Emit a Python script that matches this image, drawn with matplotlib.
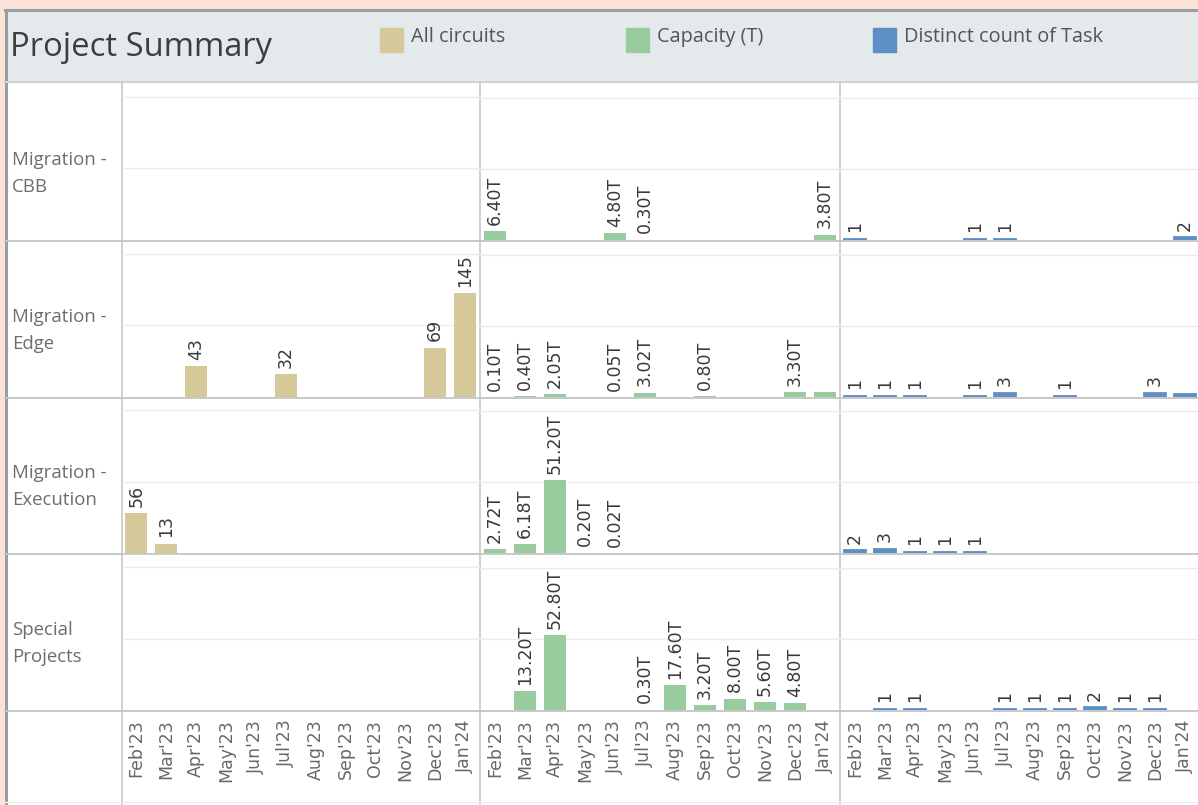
import numpy as np
import matplotlib.pyplot as plt
from matplotlib.patches import Rectangle

# months on the x axis
months = ["Feb'23", "Mar'23", "Apr'23", "May'23", "Jun'23", "Jul'23",
          "Aug'23", "Sep'23", "Oct'23", "Nov'23", "Dec'23", "Jan'24"]
row_names = ["Migration -\nCBB", "Migration -\nEdge",
             "Migration -\nExecution", "Special\nProjects"]

# All circuits
circuits_cbb = [None] * 12
circuits_edge = [None, None, 43, None, None, 32, None, None, None, None, 69, 145]
circuits_exec = [56, 13, None, None, None, None, None, None, None, None, None, None]
circuits_special = [None] * 12

# Capacity (T)
capacity_cbb = [6.40, None, None, None, 4.80, 0.30, None, None, None, None, None, 3.80]
capacity_edge = [0.10, 0.40, 2.05, None, 0.05, 3.02, None, 0.80, None, None, 3.30, 3.30]
capacity_exec = [2.72, 6.18, 51.20, 0.20, 0.02, None, None, None, None, None, None, None]
capacity_special = [None, 13.20, 52.80, None, None, 0.30, 17.60, 3.20, 8.00, 5.60, 4.80, None]

# Distinct count of Task
tasks_cbb = [1, None, None, None, 1, 1, None, None, None, None, None, 2]
tasks_edge = [1, 1, 1, None, 1, 3, None, 1, None, None, 3, 2]
tasks_exec = [2, 3, 1, 1, 1, None, None, None, None, None, None, None]
tasks_special = [None, 1, 1, None, None, 1, 1, 1, 2, 1, 1, None]

# Jan'24 marks in the Edge row carry no label in the original
edge_unlabeled = [11]

gold, green, blue = '#d5c999', '#98cb9d', '#5d8fc5'

# (series per row, colour, label format, pixels per unit, gridlines, bar edge)
measures = [
    ([circuits_cbb, circuits_edge, circuits_exec, circuits_special], gold,
     lambda v: f"{v:g}", 0.715, [100, 200], 0),
    ([capacity_cbb, capacity_edge, capacity_exec, capacity_special], green,
     lambda v: f"{v:.2f}T", 1.42, [50, 100], 0),
    ([tasks_cbb, tasks_edge, tasks_exec, tasks_special], blue,
     lambda v: f"{v:g}", 1.42, [50, 100], 1.3),
]

W, H = 1198, 805
fig = plt.figure(figsize=(W / 100, H / 100), dpi=100)
fig.patch.set_facecolor('#fde3d7')

# background layer in pixel coordinates
bg = fig.add_axes([0, 0, 1, 1])
bg.set_xlim(0, W)
bg.set_ylim(H, 0)
bg.axis('off')
bg.add_patch(Rectangle((5, 10), W - 5, H - 10, color='white'))
bg.add_patch(Rectangle((5, 10), W - 5, 72, color='#e4e9ec'))
bg.plot([5, W], [10, 10], color='#9a9ea2', lw=2.2)
bg.plot([5.5, 5.5], [10, H], color='#9a9ea2', lw=2.2)
bg.plot([5, W], [82, 82], color='#d0d4d7', lw=1.5)

bg.text(10, 47, 'Project Summary', fontsize=23.6, family='Open Sans',
        color='#3d3d3d', va='center')
legend = [('All circuits', gold, 380), ('Capacity (T)', green, 626),
          ('Distinct count of Task', blue, 873)]
for name, c, x in legend:
    bg.add_patch(Rectangle((x, 28), 23, 24, color=c))
    bg.text(x + 31, 37, name, fontsize=14.3, family='Open Sans',
            color='#555555', va='center')

col_left = [121.5, 480, 840]
col_width = [358.5, 360, 360]
row_top = [82, 240, 397, 553]
row_bottom = [240, 397, 553, 710]

# separators (row lines sit just under the bar baselines)
for x in col_left:
    bg.plot([x, x], [82, H], color='#cbcbcb', lw=1.3)
for y in row_bottom:
    bg.plot([5, W], [y + 1.2, y + 1.2], color='#c4c4c4', lw=1.3)
bg.plot([5, W], [H - 3, H - 3], color='#eeeeee', lw=1)

# row headers
for r, name in enumerate(row_names):
    for k, line in enumerate(name.split('\n')):
        bg.text(12, row_bottom[r] - 80 + 27 * k, line, fontsize=13.4,
                family='Open Sans', color='#6d6d6d', va='center')

x = np.arange(len(months))
for c, (series, color, fmt, ppu, grid, edge) in enumerate(measures):
    for r in range(4):
        h = row_bottom[r] - row_top[r]
        ax = fig.add_axes([col_left[c] / W, 1 - row_bottom[r] / H,
                           col_width[c] / W, h / H])
        ax.set_facecolor('none')
        ax.set_xlim(-0.5, 11.5)
        ax.set_ylim(0, h / ppu)
        for s in ax.spines.values():
            s.set_visible(False)
        ax.set_yticks(grid)
        ax.tick_params(axis='y', length=0, labelleft=False)
        ax.grid(axis='y', color='#ececec', lw=1)
        ax.set_axisbelow(True)

        vals = series[r]
        for i, v in enumerate(vals):
            if v is None:
                continue
            ax.bar(i, v, width=0.74, color=color, edgecolor=color,
                   linewidth=edge, zorder=2)
            if r == 1 and c > 0 and i in edge_unlabeled:
                continue
            ax.annotate(fmt(v), (i, v), xytext=(0, 4.5), textcoords='offset points',
                        rotation=90, ha='center', va='bottom', fontsize=12.5,
                        color='#3a3a3a')

        if r == 3:
            ax.set_xticks(x)
            ax.set_xticklabels(months, rotation=90, fontsize=12.5, color='#686868')
            ax.tick_params(axis='x', length=0, pad=7)
        else:
            ax.set_xticks([])

fig.savefig('out.png', dpi=100, facecolor=fig.get_facecolor())
